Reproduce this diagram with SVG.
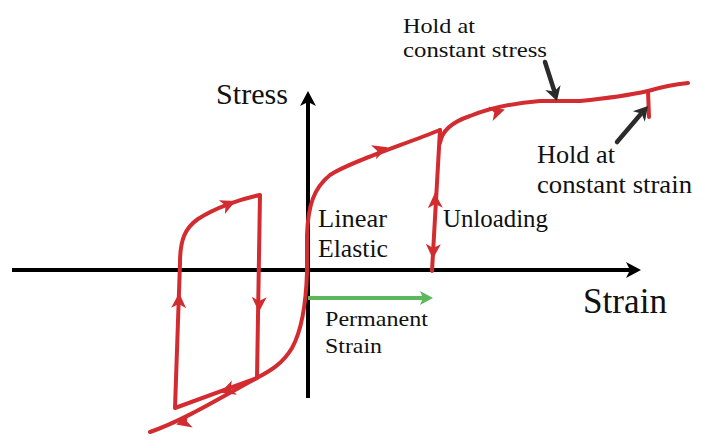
<svg xmlns="http://www.w3.org/2000/svg" xmlns:xlink="http://www.w3.org/1999/xlink" width="705" height="448" viewBox="0 0 705 448">
<style>
.red{fill:none;stroke:#d22b30;stroke-width:4;stroke-linecap:round;stroke-linejoin:round}
.axis{fill:none;stroke:#000;stroke-width:4}
.call{fill:none;stroke:#2b2b2b;stroke-width:4.5;stroke-linecap:round}
.t{font-family:"Liberation Serif","Times New Roman",serif;fill:#111}
</style>
<defs>
<path id="rah" d="M5,0 L-10,-7.5 L-6,0 L-10,7.5 Z" fill="#d22b30"/>
<path id="kah" d="M0,0 L-15,-8 L-11,0 L-15,8 Z" fill="#000"/>
<path id="cah" d="M0,0 L-14,-8 L-10,0 L-14,8 Z" fill="#2b2b2b"/>
<path id="gah" d="M0,0 L-13,-7 L-10,0 L-13,7 Z" fill="#5cb85c"/>
</defs>
<g id="axes">
<line class="axis" x1="12" y1="270" x2="630" y2="270"/>
<use xlink:href="#kah" transform="translate(641,270)"/>
<line class="axis" x1="308" y1="398" x2="308" y2="102"/>
<use xlink:href="#kah" transform="translate(308,91) rotate(-90)"/>
</g>
<g id="connectors">
<path class="red" d="M307,272 C306,305 302,330 292,348 C282,365 268,372 255,379 C225,395 185,420 150,432"/>
<path class="red" d="M307,272 L307,235 C308,205 314,188 330,175 C350,162 400,146 440,130"/>
<path class="red" d="M440,130 L432,271"/>
<path class="red" d="M440,143 C442,130 452,122 470,116 C490,108 515,103 540,101 L580,101 C600,99 630,95 648,91 C658,88 668,85 688,83"/>
<path class="red" d="M648,91 L649,117"/>
<path class="red" d="M175,408 L180,263 C180,240 185,228 198,219 C215,208 240,199 260,195 L257,378 Z"/>
<use xlink:href="#rah" transform="translate(383,149) rotate(-19)"/>
<use xlink:href="#rah" transform="translate(231,203) rotate(-24)"/>
<use xlink:href="#rah" transform="translate(500,111) rotate(-17)"/>
<use xlink:href="#rah" transform="translate(179,298) rotate(-88)"/>
<use xlink:href="#rah" transform="translate(259,307) rotate(91)"/>
<use xlink:href="#rah" transform="translate(225,391) rotate(160)"/>
<use xlink:href="#rah" transform="translate(181,423) rotate(164)"/>
<use xlink:href="#rah" transform="translate(435,198) rotate(-92)"/>
<use xlink:href="#rah" transform="translate(433,254) rotate(92)"/>
<line x1="308" y1="298" x2="423" y2="298" stroke="#5cb85c" stroke-width="4"/>
<use xlink:href="#gah" transform="translate(433,298)"/>
<line class="call" x1="545" y1="62" x2="554" y2="90"/>
<use xlink:href="#cah" transform="translate(557,101) rotate(73)"/>
<line class="call" x1="617" y1="142" x2="640" y2="115"/>
<use xlink:href="#cah" transform="translate(648,106) rotate(-49)"/>
</g>
<g id="label-stress"><text class="t" x="216" y="104" font-size="30" textLength="72" lengthAdjust="spacingAndGlyphs">Stress</text></g>
<g id="label-strain"><text class="t" x="583" y="313" font-size="35" textLength="84" lengthAdjust="spacingAndGlyphs">Strain</text></g>
<g id="label-linear"><text class="t" x="318" y="227" font-size="25" textLength="69" lengthAdjust="spacingAndGlyphs">Linear</text><text class="t" x="318" y="257" font-size="25" textLength="70" lengthAdjust="spacingAndGlyphs">Elastic</text></g>
<g id="label-unloading"><text class="t" x="443" y="227" font-size="25" textLength="105" lengthAdjust="spacingAndGlyphs">Unloading</text></g>
<g id="label-permanent"><text class="t" x="325" y="326" font-size="22" textLength="103" lengthAdjust="spacingAndGlyphs">Permanent</text><text class="t" x="325" y="353" font-size="22" textLength="57" lengthAdjust="spacingAndGlyphs">Strain</text></g>
<g id="label-hold-stress"><text class="t" x="403" y="33" font-size="21" textLength="72" lengthAdjust="spacingAndGlyphs">Hold at</text><text class="t" x="403" y="56.5" font-size="22" textLength="144" lengthAdjust="spacingAndGlyphs">constant stress</text></g>
<g id="label-hold-strain"><text class="t" x="537" y="163" font-size="25" textLength="78" lengthAdjust="spacingAndGlyphs">Hold at</text><text class="t" x="537" y="193" font-size="25" textLength="155" lengthAdjust="spacingAndGlyphs">constant strain</text></g>
</svg>
